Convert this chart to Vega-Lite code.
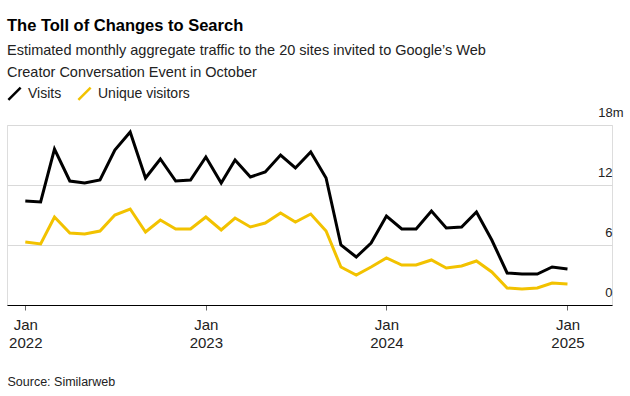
{
  "$schema": "https://vega.github.io/schema/vega-lite/v6.json",
  "autosize": {"type": "none"},
  "width": 605,
  "height": 180,
  "padding": {"left": 7, "top": 125, "right": 18, "bottom": 91},
  "background": "white",
  "title": {
    "text": "The Toll of Changes to Search",
    "subtitle": ["Estimated monthly aggregate traffic to the 20 sites invited to Google’s Web", "Creator Conversation Event in October"],
    "anchor": "start",
    "frame": "group",
    "font": "Liberation Sans",
    "fontSize": 16.5,
    "fontWeight": "bold",
    "color": "#000000",
    "subtitleFont": "Liberation Sans",
    "subtitleFontSize": 14.5,
    "subtitleColor": "#222222",
    "subtitleLineHeight": 22,
    "subtitlePadding": 9,
    "offset": 7
  },
  "data": {
    "values": [
      {"date": "2022-01-01", "series": "Visits", "value": 10.4},
      {"date": "2022-02-01", "series": "Visits", "value": 10.3},
      {"date": "2022-03-01", "series": "Visits", "value": 15.6},
      {"date": "2022-04-01", "series": "Visits", "value": 12.4},
      {"date": "2022-05-01", "series": "Visits", "value": 12.2},
      {"date": "2022-06-01", "series": "Visits", "value": 12.5},
      {"date": "2022-07-01", "series": "Visits", "value": 15.5},
      {"date": "2022-08-01", "series": "Visits", "value": 17.3},
      {"date": "2022-09-01", "series": "Visits", "value": 12.7},
      {"date": "2022-10-01", "series": "Visits", "value": 14.6},
      {"date": "2022-11-01", "series": "Visits", "value": 12.4},
      {"date": "2022-12-01", "series": "Visits", "value": 12.5},
      {"date": "2023-01-01", "series": "Visits", "value": 14.8},
      {"date": "2023-02-01", "series": "Visits", "value": 12.2},
      {"date": "2023-03-01", "series": "Visits", "value": 14.5},
      {"date": "2023-04-01", "series": "Visits", "value": 12.8},
      {"date": "2023-05-01", "series": "Visits", "value": 13.3},
      {"date": "2023-06-01", "series": "Visits", "value": 15.0},
      {"date": "2023-07-01", "series": "Visits", "value": 13.7},
      {"date": "2023-08-01", "series": "Visits", "value": 15.3},
      {"date": "2023-09-01", "series": "Visits", "value": 12.7},
      {"date": "2023-10-01", "series": "Visits", "value": 6.0},
      {"date": "2023-11-01", "series": "Visits", "value": 4.8},
      {"date": "2023-12-01", "series": "Visits", "value": 6.2},
      {"date": "2024-01-01", "series": "Visits", "value": 8.9},
      {"date": "2024-02-01", "series": "Visits", "value": 7.6},
      {"date": "2024-03-01", "series": "Visits", "value": 7.6},
      {"date": "2024-04-01", "series": "Visits", "value": 9.4},
      {"date": "2024-05-01", "series": "Visits", "value": 7.7},
      {"date": "2024-06-01", "series": "Visits", "value": 7.8},
      {"date": "2024-07-01", "series": "Visits", "value": 9.3},
      {"date": "2024-08-01", "series": "Visits", "value": 6.5},
      {"date": "2024-09-01", "series": "Visits", "value": 3.2},
      {"date": "2024-10-01", "series": "Visits", "value": 3.1},
      {"date": "2024-11-01", "series": "Visits", "value": 3.1},
      {"date": "2024-12-01", "series": "Visits", "value": 3.8},
      {"date": "2025-01-01", "series": "Visits", "value": 3.6},
      {"date": "2022-01-01", "series": "Unique visitors", "value": 6.3},
      {"date": "2022-02-01", "series": "Unique visitors", "value": 6.1},
      {"date": "2022-03-01", "series": "Unique visitors", "value": 8.8},
      {"date": "2022-04-01", "series": "Unique visitors", "value": 7.2},
      {"date": "2022-05-01", "series": "Unique visitors", "value": 7.1},
      {"date": "2022-06-01", "series": "Unique visitors", "value": 7.4},
      {"date": "2022-07-01", "series": "Unique visitors", "value": 9.0},
      {"date": "2022-08-01", "series": "Unique visitors", "value": 9.6},
      {"date": "2022-09-01", "series": "Unique visitors", "value": 7.3},
      {"date": "2022-10-01", "series": "Unique visitors", "value": 8.5},
      {"date": "2022-11-01", "series": "Unique visitors", "value": 7.6},
      {"date": "2022-12-01", "series": "Unique visitors", "value": 7.6},
      {"date": "2023-01-01", "series": "Unique visitors", "value": 8.8},
      {"date": "2023-02-01", "series": "Unique visitors", "value": 7.5},
      {"date": "2023-03-01", "series": "Unique visitors", "value": 8.7},
      {"date": "2023-04-01", "series": "Unique visitors", "value": 7.8},
      {"date": "2023-05-01", "series": "Unique visitors", "value": 8.2},
      {"date": "2023-06-01", "series": "Unique visitors", "value": 9.2},
      {"date": "2023-07-01", "series": "Unique visitors", "value": 8.3},
      {"date": "2023-08-01", "series": "Unique visitors", "value": 9.1},
      {"date": "2023-09-01", "series": "Unique visitors", "value": 7.4},
      {"date": "2023-10-01", "series": "Unique visitors", "value": 3.8},
      {"date": "2023-11-01", "series": "Unique visitors", "value": 3.0},
      {"date": "2023-12-01", "series": "Unique visitors", "value": 3.8},
      {"date": "2024-01-01", "series": "Unique visitors", "value": 4.7},
      {"date": "2024-02-01", "series": "Unique visitors", "value": 4.0},
      {"date": "2024-03-01", "series": "Unique visitors", "value": 4.0},
      {"date": "2024-04-01", "series": "Unique visitors", "value": 4.5},
      {"date": "2024-05-01", "series": "Unique visitors", "value": 3.7},
      {"date": "2024-06-01", "series": "Unique visitors", "value": 3.9},
      {"date": "2024-07-01", "series": "Unique visitors", "value": 4.4},
      {"date": "2024-08-01", "series": "Unique visitors", "value": 3.3},
      {"date": "2024-09-01", "series": "Unique visitors", "value": 1.7},
      {"date": "2024-10-01", "series": "Unique visitors", "value": 1.6},
      {"date": "2024-11-01", "series": "Unique visitors", "value": 1.7},
      {"date": "2024-12-01", "series": "Unique visitors", "value": 2.2},
      {"date": "2025-01-01", "series": "Unique visitors", "value": 2.1}
    ]
  },
  "mark": {"type": "line", "strokeWidth": 3, "strokeJoin": "miter"},
  "encoding": {
    "x": {
      "field": "date",
      "type": "temporal",
      "scale": {
        "type": "utc",
        "domain": [
          {"year": 2021, "month": 11, "date": 25, "utc": true},
          {"year": 2025, "month": 4, "date": 1, "utc": true}
        ]
      },
      "axis": {
        "values": [
          {"year": 2022, "month": 1, "date": 1, "utc": true},
          {"year": 2023, "month": 1, "date": 1, "utc": true},
          {"year": 2024, "month": 1, "date": 1, "utc": true},
          {"year": 2025, "month": 1, "date": 1, "utc": true}
        ],
        "labelExpr": "[utcFormat(datum.value, '%b'), utcFormat(datum.value, '%Y')]",
        "labelFont": "Liberation Sans",
        "labelFontSize": 15,
        "labelLineHeight": 18,
        "labelColor": "#222222",
        "labelPadding": 7,
        "labelFlush": false,
        "labelOverlap": false,
        "grid": false,
        "domain": true,
        "domainColor": "#000000",
        "domainWidth": 1.2,
        "ticks": true,
        "tickColor": "#666666",
        "tickSize": 5,
        "title": "Source: Similarweb",
        "titleFont": "Liberation Sans",
        "titleFontSize": 12.5,
        "titleFontWeight": "normal",
        "titleColor": "#222222",
        "titleAnchor": "start",
        "titleAlign": "left",
        "titleBaseline": "middle",
        "titleX": 0,
        "titleY": 76
      }
    },
    "y": {
      "field": "value",
      "type": "quantitative",
      "scale": {"domain": [0, 18], "nice": false},
      "axis": {
        "orient": "right",
        "values": [0, 6, 12, 18],
        "labelExpr": "datum.value == 18 ? '18m' : datum.label",
        "labelFont": "Liberation Sans",
        "labelFontSize": 13,
        "labelColor": "#222222",
        "labelAlign": "right",
        "labelBaseline": "middle",
        "labelOffset": -13,
        "labelPadding": {"condition": {"test": "datum.value == 18", "value": 11}, "value": 0},
        "labelFlush": false,
        "labelOverlap": false,
        "domain": false,
        "ticks": false,
        "tickSize": 0,
        "grid": true,
        "gridColor": "#d9d9d9",
        "gridWidth": 1,
        "title": null
      }
    },
    "color": {
      "field": "series",
      "type": "nominal",
      "sort": ["Visits", "Unique visitors"],
      "scale": {"domain": ["Visits", "Unique visitors"], "range": ["#000000", "#f2c200"]},
      "legend": {
        "title": null,
        "orient": "none",
        "legendX": 0,
        "legendY": -39,
        "direction": "horizontal",
        "symbolType": "M-1,1L1,-1",
        "symbolSize": 150,
        "symbolStrokeWidth": 2.5,
        "labelFont": "Liberation Sans",
        "labelFontSize": 14,
        "labelColor": "#222222",
        "labelOffset": 6,
        "columnPadding": 11,
        "padding": 0
      }
    }
  }
}
